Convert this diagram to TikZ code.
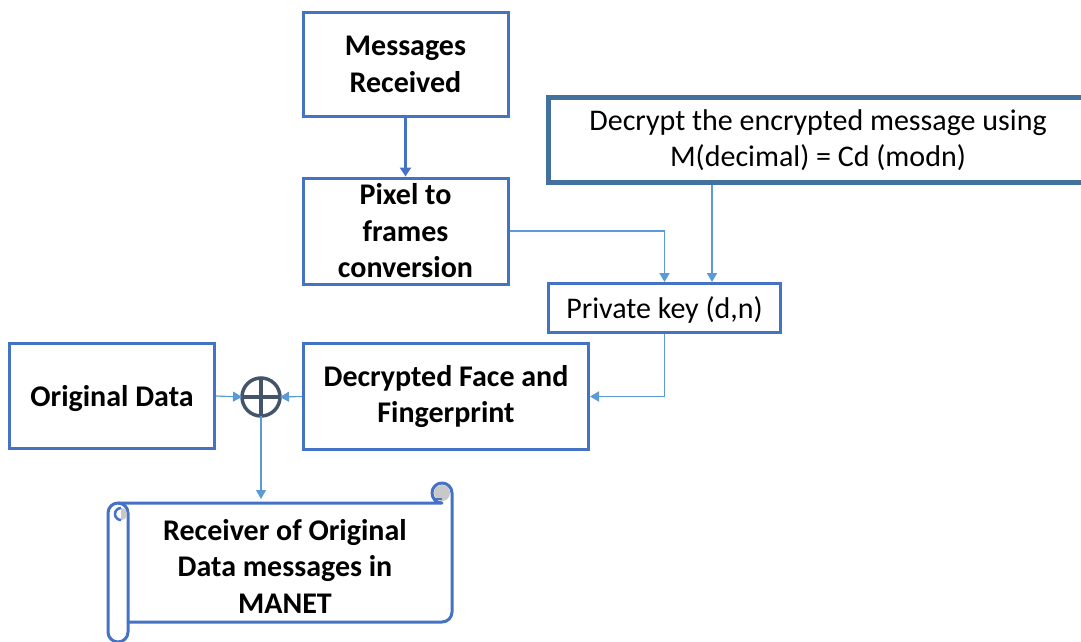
\documentclass[tikz,border=0pt]{standalone}
\usepackage{fontspec}
\setmainfont{Carlito}
\usetikzlibrary{arrows.meta,calc}
\definecolor{boxblue}{HTML}{4472C4}
\definecolor{lineblue}{HTML}{5B9BD5}
\definecolor{darkblue}{HTML}{41719C}
\definecolor{slate}{HTML}{44546A}
\definecolor{curlgray}{HTML}{C8C8C8}
\newcommand\offstrut{\rule[-0.269em]{0pt}{1.221em}}
\begin{document}
\begin{tikzpicture}[x=1pt,y=-1pt,
  box/.style={draw=boxblue,line width=3pt,fill=white,align=center,inner sep=0pt,
    font=\fontsize{30}{36.5}\selectfont\bfseries},
  plainbox/.style={box,font=\fontsize{30}{35.5}\selectfont},
  conn/.style={draw=lineblue,line width=1.8pt,-{Triangle[length=9pt,width=10pt]}},
  thinconn/.style={draw=lineblue,line width=1.2pt,-{Triangle[length=9pt,width=10pt]}},
  mainconn/.style={draw=boxblue,line width=3pt,-{Triangle[length=9pt,width=11pt]}},
  scrollline/.style={draw=boxblue,line width=3pt,line join=round},
  xorst/.style={circle,draw=slate,line width=3.5pt,minimum size=38pt,inner sep=0pt,outer sep=0pt}
]
\useasboundingbox (0,0) rectangle (1081,642);

% boxes
\node[box,minimum width=205pt,minimum height=104pt] (msg) at (405.5,64.5) {Messages\\Received};
\node[box,minimum width=205pt,minimum height=106pt] (pix) at (405.5,231) {Pixel to\\frames\\conversion};
\node[plainbox,draw=darkblue,line width=5pt,minimum width=540pt,minimum height=85pt] (dec) at (818,140)
  {Decrypt the encrypted message using\\M(decimal) = Cd (modn)};
\node[plainbox,minimum width=232pt,minimum height=49pt] (key) at (664.5,308) {\offstrut Private key (d,n)};
\node[box,minimum width=285pt,minimum height=106pt] (dfp) at (446,396.5) {Decrypted Face and\\Fingerprint};
\node[box,minimum width=205pt,minimum height=105pt] (orig) at (112,396) {\offstrut Original Data};
\node[xorst] (xor) at (261,397) {};
\draw[slate,line width=3.5pt] (xor.north) -- (xor.south) (xor.west) -- (xor.east);

% scroll shape
\fill[curlgray] (442,493) circle (9);
\draw[scrollline,fill=white] (108,513) arc[start angle=180,end angle=270,radius=10]
  -- (442,503) arc[start angle=90,end angle=360,radius=10]
  -- (452,612) arc[start angle=0,end angle=90,radius=10]
  -- (128,622) -- (128,632) arc[start angle=0,end angle=180,radius=10] -- cycle;
\fill[curlgray] (442,493) circle (8);
\draw[boxblue,line width=2pt] (434,499) -- (442,499);
\draw[scrollline] (118,503) arc[start angle=270,end angle=360,radius=10] -- (128,622);
\fill[curlgray] (121,508) arc[start angle=270,end angle=450,radius=6] -- cycle;
\draw[boxblue,line width=2.5pt] (121,508) arc[start angle=270,end angle=90,radius=6];
\node[font=\fontsize{30}{36.5}\selectfont\bfseries,align=center,inner sep=0pt] (scr) at (285,566)
  {Receiver of Original\\Data messages in\\MANET};
\coordinate (scrtop) at (261,499);

% connectors
\coordinate (k2) at ([xshift=47.5pt]key.north);
\draw[mainconn] (msg.south) -- (pix.north);
\draw[conn] (pix.east) -| (key.north);
\draw[conn] (dec.south -| k2) -- (k2);
\draw[conn] (key.south) |- (dfp.east);
\draw[thinconn] (orig.east) -- (xor.west);
\draw[thinconn] (dfp.west) -- (xor.east);
\draw[thinconn] (xor.south) -- (scrtop);
\end{tikzpicture}
\end{document}
